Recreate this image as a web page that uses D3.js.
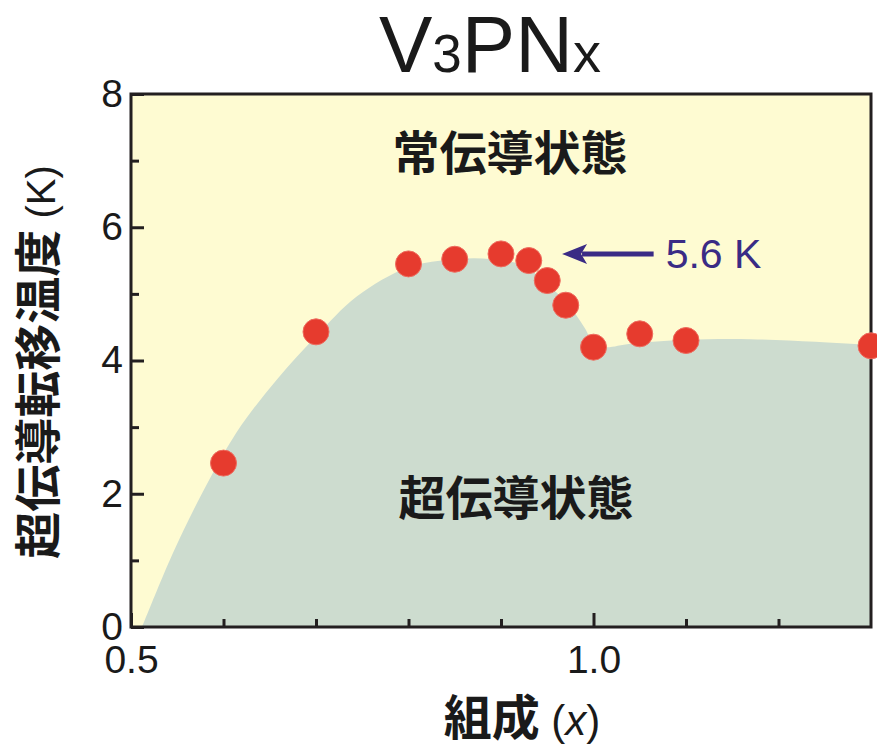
<!DOCTYPE html>
<html>
<head>
<meta charset="utf-8">
<script src="https://cdn.jsdelivr.net/npm/d3@7"></script>
<style>
  html, body { margin: 0; padding: 0; background: #ffffff; }
  svg { display: block; }
</style>
</head>
<body>
<svg id="chart" width="877" height="751"></svg>
<script>
// ---- data ----
const compositionX = [0.6, 0.7, 0.8, 0.85, 0.9, 0.93, 0.95, 0.97, 1.0, 1.05, 1.1, 1.3];
const tcValues     = [2.46, 4.43, 5.45, 5.52, 5.6, 5.5, 5.2, 4.83, 4.2, 4.4, 4.3, 4.22];

// phase boundary (superconducting region upper edge)
const boundaryX = [0.512, 0.545, 0.577, 0.614, 0.658, 0.70, 0.744, 0.80, 0.85, 0.89, 0.925, 0.95, 0.972, 0.99, 1.0, 1.012, 1.04, 1.1, 1.17, 1.24, 1.30];
const boundaryY = [0.0, 1.1, 2.01, 2.92, 3.72, 4.36, 4.96, 5.40, 5.52, 5.52, 5.42, 5.15, 4.85, 4.5, 4.27, 4.2, 4.25, 4.31, 4.32, 4.28, 4.23];

const xMajorTicks = [0.5, 1.0];
const xMinorTicks = [0.6, 0.7, 0.8, 0.9, 1.1, 1.2];
const yMajorTicks = [0, 2, 4, 6, 8];
const yMinorTicks = [1, 3, 5, 7];
const xTickLabels = ["0.5", "1.0"];

const peakLabel = "5.6 K";
const peakArrow = { fromX: 1.065, toX: 0.966, y: 5.6 };

// ---- layout ----
const svg = d3.select("#chart");
const L = 131, R = 871, T = 94, B = 627;
const x = d3.scaleLinear().domain([0.5, 1.3]).range([L, R]);
const y = d3.scaleLinear().domain([0, 8]).range([B, T]);

const yellow = "#fefbd2", teal = "#cddccf", axisCol = "#231f20", indigo = "#3a2b85";

svg.append("defs").append("clipPath").attr("id", "plotclip")
  .append("rect").attr("x", L).attr("y", T).attr("width", R - L).attr("height", B - T);

// background (normal state)
svg.append("rect").attr("x", L).attr("y", T).attr("width", R - L).attr("height", B - T).attr("fill", yellow);

// superconducting region
const bData = boundaryX.map((v, i) => [v, boundaryY[i]]);
const area = d3.area().x(d => x(d[0])).y0(y(0)).y1(d => y(d[1])).curve(d3.curveCatmullRom.alpha(0.5));
svg.append("path").datum(bData).attr("d", area).attr("fill", teal).attr("clip-path", "url(#plotclip)");

// region labels
svg.append("text").attr("x", 510).attr("y", 170).attr("text-anchor", "middle")
  .attr("font-family", "'Noto Sans CJK JP', sans-serif").attr("font-weight", "bold")
  .attr("font-size", 47).attr("fill", "#1a1a1a").text("常伝導状態");
svg.append("text").attr("x", 516).attr("y", 515).attr("text-anchor", "middle")
  .attr("font-family", "'Noto Sans CJK JP', sans-serif").attr("font-weight", "bold")
  .attr("font-size", 47).attr("fill", "#1a1a1a").text("超伝導状態");

// axes
const tickFont = "'Liberation Sans', Arial, sans-serif";
function styleAxis(g) {
  g.select(".domain").remove();
  g.selectAll(".tick line").attr("stroke", axisCol).attr("stroke-width", 3);
  g.selectAll(".tick text").attr("font-family", tickFont).attr("font-size", 39).attr("fill", "#1a1a1a");
}
const xMajor = d3.axisBottom(x).tickValues(xMajorTicks).tickSize(-14).tickPadding(18)
  .tickFormat((d, i) => xTickLabels[i]);
svg.append("g").attr("transform", `translate(0,${B})`).call(xMajor).call(styleAxis);
const xMinor = d3.axisBottom(x).tickValues(xMinorTicks).tickSize(-8).tickFormat("");
svg.append("g").attr("transform", `translate(0,${B})`).call(xMinor).call(styleAxis);

const yMajor = d3.axisLeft(y).tickValues(yMajorTicks).tickSize(-13).tickPadding(8).tickFormat(d3.format("d"));
svg.append("g").attr("transform", `translate(${L},0)`).call(yMajor).call(styleAxis);
const yMinor = d3.axisLeft(y).tickValues(yMinorTicks).tickSize(-8).tickFormat("");
svg.append("g").attr("transform", `translate(${L},0)`).call(yMinor).call(styleAxis);

// frame
svg.append("rect").attr("x", L).attr("y", T).attr("width", R - L).attr("height", B - T)
  .attr("fill", "none").attr("stroke", axisCol).attr("stroke-width", 3);

// arrow + label
const ax0 = x(peakArrow.fromX), ax1 = x(peakArrow.toX), ay = y(peakArrow.y);
svg.append("line").attr("x1", ax0).attr("x2", ax1 + 20).attr("y1", ay).attr("y2", ay)
  .attr("stroke", indigo).attr("stroke-width", 5);
svg.append("path")
  .attr("d", `M${ax1},${ay} L${ax1 + 25},${ay - 10} L${ax1 + 19},${ay} L${ax1 + 25},${ay + 10} Z`)
  .attr("fill", indigo);
svg.append("text").attr("x", ax0 + 12).attr("y", ay + 14)
  .attr("font-family", tickFont).attr("font-size", 41).attr("fill", indigo).text(peakLabel);

// data points
svg.append("g").selectAll("circle").data(compositionX).join("circle")
  .attr("cx", d => x(d)).attr("cy", (d, i) => y(tcValues[i])).attr("r", 13)
  .attr("fill", "#e63b2e").attr("stroke", "#ee6b5e").attr("stroke-width", 1);

// title
const title = svg.append("text").attr("x", 490).attr("y", 72).attr("text-anchor", "middle")
  .attr("font-family", tickFont).attr("fill", "#1a1a1a");
title.append("tspan").attr("font-size", 80).text("V");
title.append("tspan").attr("font-size", 53).text("3");
title.append("tspan").attr("font-size", 80).text("PN");
title.append("tspan").attr("font-size", 56).text("x");

// y label
const yl = svg.append("text").attr("transform", "translate(55,362) rotate(-90)").attr("text-anchor", "middle")
  .attr("fill", "#1a1a1a");
yl.append("tspan").attr("font-family", "'Noto Sans CJK JP', sans-serif").attr("font-weight", "bold")
  .attr("font-size", 47).text("超伝導転移温度");
yl.append("tspan").attr("font-family", tickFont).attr("font-size", 40).text(" (K)");

// x label
const xl = svg.append("text").attr("x", 522).attr("y", 735).attr("text-anchor", "middle").attr("fill", "#1a1a1a");
xl.append("tspan").attr("font-family", "'Noto Sans CJK JP', sans-serif").attr("font-weight", "bold")
  .attr("font-size", 48).text("組成");
xl.append("tspan").attr("font-family", tickFont).attr("font-size", 42).text(" (");
xl.append("tspan").attr("font-family", tickFont).attr("font-size", 42).attr("font-style", "italic").text("x");
xl.append("tspan").attr("font-family", tickFont).attr("font-size", 42).text(")");
</script>
</body>
</html>
